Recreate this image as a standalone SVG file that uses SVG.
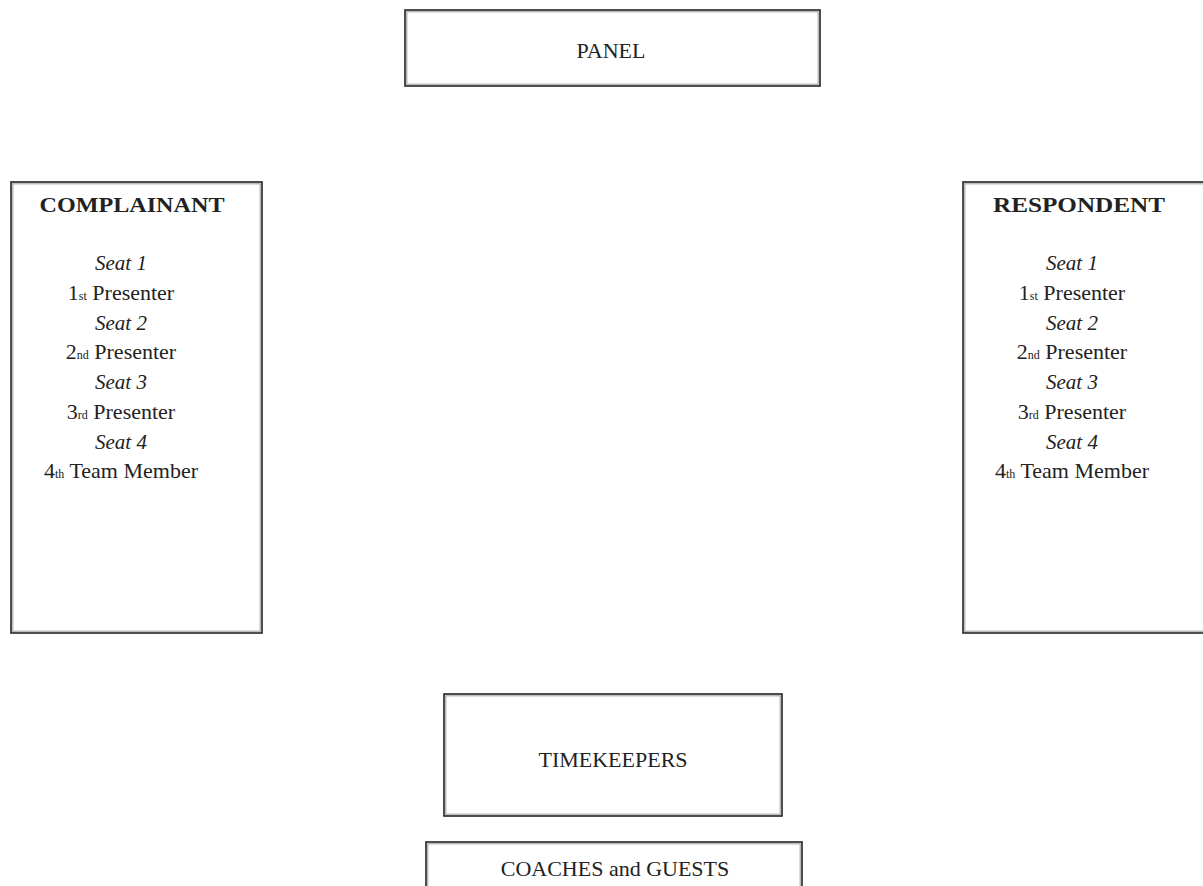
<svg xmlns="http://www.w3.org/2000/svg" width="1203" height="886" viewBox="0 0 1203 886">
<style>
  .box { fill: #ffffff; stroke: #222222; stroke-width: 1.6; }
  .inner { fill: none; stroke: #aaaaaa; stroke-width: 1.2; }
  text { font-family: "Liberation Serif", "Times New Roman", serif; fill: #222222; }
  .lbl { font-size: 22px; text-anchor: middle; }
  .hdr { font-size: 22px; font-weight: bold; text-anchor: middle; }
  .seat { font-size: 21px; font-style: italic; text-anchor: middle; }
  .item { font-size: 22px; text-anchor: middle; }
  .sup { font-size: 12px; }
</style>
<rect width="1203" height="886" fill="#ffffff"/>
<g id="connectors"></g>
<g id="panel">
  <rect class="box" x="405" y="10" width="415" height="76"/>
  <rect class="inner" x="406.8" y="11.8" width="411.4" height="72.4"/>
  <text class="lbl" x="611" y="58">PANEL</text>
</g>
<g id="complainant">
  <rect class="box" x="11" y="182" width="251" height="451"/>
  <rect class="inner" x="12.8" y="183.8" width="247.4" height="447.4"/>
  <text class="hdr" x="132" y="212" textLength="185" lengthAdjust="spacingAndGlyphs">COMPLAINANT</text>
  <text class="seat" x="121" y="270">Seat 1</text>
  <text class="item" x="121" y="300">1<tspan class="sup">st</tspan> Presenter</text>
  <text class="seat" x="121" y="330">Seat 2</text>
  <text class="item" x="121" y="359">2<tspan class="sup">nd</tspan> Presenter</text>
  <text class="seat" x="121" y="389">Seat 3</text>
  <text class="item" x="121" y="419">3<tspan class="sup">rd</tspan> Presenter</text>
  <text class="seat" x="121" y="449">Seat 4</text>
  <text class="item" x="121" y="478">4<tspan class="sup">th</tspan> Team Member</text>
</g>
<g id="respondent">
  <rect class="box" x="963" y="182" width="251" height="451"/>
  <rect class="inner" x="964.8" y="183.8" width="247.4" height="447.4"/>
  <text class="hdr" x="1079" y="212" textLength="172" lengthAdjust="spacingAndGlyphs">RESPONDENT</text>
  <text class="seat" x="1072" y="270">Seat 1</text>
  <text class="item" x="1072" y="300">1<tspan class="sup">st</tspan> Presenter</text>
  <text class="seat" x="1072" y="330">Seat 2</text>
  <text class="item" x="1072" y="359">2<tspan class="sup">nd</tspan> Presenter</text>
  <text class="seat" x="1072" y="389">Seat 3</text>
  <text class="item" x="1072" y="419">3<tspan class="sup">rd</tspan> Presenter</text>
  <text class="seat" x="1072" y="449">Seat 4</text>
  <text class="item" x="1072" y="478">4<tspan class="sup">th</tspan> Team Member</text>
</g>
<g id="timekeepers">
  <rect class="box" x="444" y="694" width="338" height="122"/>
  <rect class="inner" x="445.8" y="695.8" width="334.4" height="118.4"/>
  <text class="lbl" x="613" y="767">TIMEKEEPERS</text>
</g>
<g id="coaches">
  <rect class="box" x="426" y="842" width="376" height="60"/>
  <rect class="inner" x="427.8" y="843.8" width="372.4" height="56.4"/>
  <text class="lbl" x="615" y="876">COACHES and GUESTS</text>
</g>
</svg>
